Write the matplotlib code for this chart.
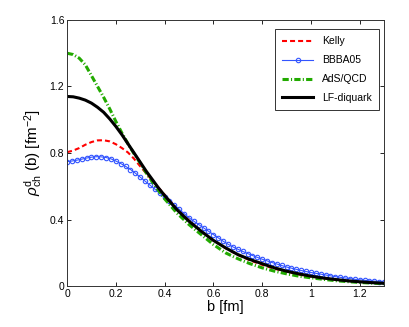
import matplotlib
matplotlib.use('Agg')
import matplotlib.pyplot as plt
import numpy as np

plt.rcParams['font.family'] = 'Liberation Sans'
plt.rcParams['mathtext.fontset'] = 'custom'
plt.rcParams['mathtext.rm'] = 'Liberation Sans'
plt.rcParams['mathtext.it'] = 'Liberation Sans:italic'
plt.rcParams['lines.scale_dashes'] = False

# data
b = [0, 0.025, 0.05, 0.075, 0.1, 0.125, 0.15, 0.175, 0.2, 0.225, 0.25, 0.275, 0.3,
     0.325, 0.35, 0.375, 0.4, 0.45, 0.5, 0.55, 0.6, 0.65, 0.7, 0.75, 0.8, 0.85,
     0.9, 0.95, 1.0, 1.05, 1.1, 1.15, 1.2, 1.25, 1.3]
kelly = [0.805, 0.815, 0.83, 0.85, 0.866, 0.876, 0.877, 0.87, 0.853, 0.83, 0.803, 0.765, 0.72,
         0.677, 0.635, 0.592, 0.55, 0.468, 0.395, 0.33, 0.275, 0.228, 0.188, 0.155, 0.128, 0.105,
         0.086, 0.07, 0.057, 0.047, 0.038, 0.031, 0.026, 0.021, 0.017]
ads_qcd = [1.40, 1.392, 1.37, 1.33, 1.265, 1.20, 1.135, 1.065, 0.99, 0.92, 0.855, 0.795, 0.74,
           0.68, 0.625, 0.575, 0.525, 0.44, 0.37, 0.31, 0.25, 0.20, 0.165, 0.135, 0.11, 0.09,
           0.074, 0.06, 0.05, 0.041, 0.033, 0.027, 0.022, 0.018, 0.015]
lf_diquark = [1.14, 1.138, 1.13, 1.118, 1.10, 1.075, 1.045, 1.005, 0.96, 0.91, 0.855, 0.80, 0.745,
              0.69, 0.64, 0.59, 0.545, 0.46, 0.39, 0.33, 0.275, 0.23, 0.19, 0.16, 0.135, 0.11,
              0.09, 0.074, 0.06, 0.049, 0.04, 0.032, 0.026, 0.021, 0.017]

b_fine = np.round(np.arange(0, 1.3001, 0.02), 3)
bbba05 = [0.748, 0.752, 0.757, 0.763, 0.770, 0.775, 0.778, 0.777, 0.773, 0.765,
          0.752, 0.737, 0.72, 0.701, 0.679, 0.655, 0.631, 0.607, 0.583, 0.559,
          0.535, 0.511, 0.487, 0.462, 0.436, 0.411, 0.39, 0.37, 0.35, 0.33,
          0.31, 0.29, 0.27, 0.252, 0.236, 0.222, 0.209, 0.196, 0.184, 0.173,
          0.162, 0.152, 0.142, 0.133, 0.124, 0.115, 0.108, 0.101, 0.094, 0.088,
          0.082, 0.077, 0.072, 0.067, 0.062, 0.057, 0.053, 0.049, 0.045, 0.041,
          0.038, 0.035, 0.032, 0.030, 0.027, 0.025]

fig = plt.figure(figsize=(4.09, 3.27), dpi=100)
ax = fig.add_axes([0.164, 0.125, 0.775, 0.814])

ax.plot(b, kelly, color='red', linestyle=(0, (3.6, 2.2)), linewidth=1.5, label='Kelly')
ax.plot(b_fine, bbba05, color='#3355ff', linestyle='-', linewidth=0.8, marker='o',
        markersize=3.2, markerfacecolor='none', markeredgewidth=0.8, label='BBBA05')
ax.plot(b, ads_qcd, color='#22aa00', linestyle=(0, (4.5, 1.6, 0.8, 1.6)), linewidth=2.2,
        label='AdS/QCD')
ax.plot(b, lf_diquark, color='black', linestyle='-', linewidth=2.2, label='LF-diquark')

ax.set_xlim(0, 1.3)
ax.set_ylim(0, 1.6)
ax.set_xticks([0, 0.2, 0.4, 0.6, 0.8, 1, 1.2])
ax.set_xticklabels(['0', '0.2', '0.4', '0.6', '0.8', '1', '1.2'])
ax.set_yticks([0, 0.4, 0.8, 1.2, 1.6])
ax.set_yticklabels(['0', '0.4', '0.8', '1.2', '1.6'])
ax.tick_params(direction='in', top=True, right=True, labelsize=7.5, length=3, width=0.6, pad=2)
for s in ax.spines.values():
    s.set_linewidth(0.7)
    s.set_color('#333333')

ax.set_xlabel('b [fm]', fontsize=10.5, labelpad=1)
ax.set_ylabel(r'$\rho^{\rm d}_{\rm ch}$ (b) [fm$^{-2}$]', fontsize=11, labelpad=4)

leg = ax.legend(loc='upper right', fontsize=7.5, handlelength=3.0, borderpad=0.7,
                labelspacing=0.85, fancybox=False, framealpha=1, edgecolor='#333333',
                bbox_to_anchor=(1.0, 0.985))
leg.get_frame().set_linewidth(0.7)

fig.savefig('out.png', dpi=100)
